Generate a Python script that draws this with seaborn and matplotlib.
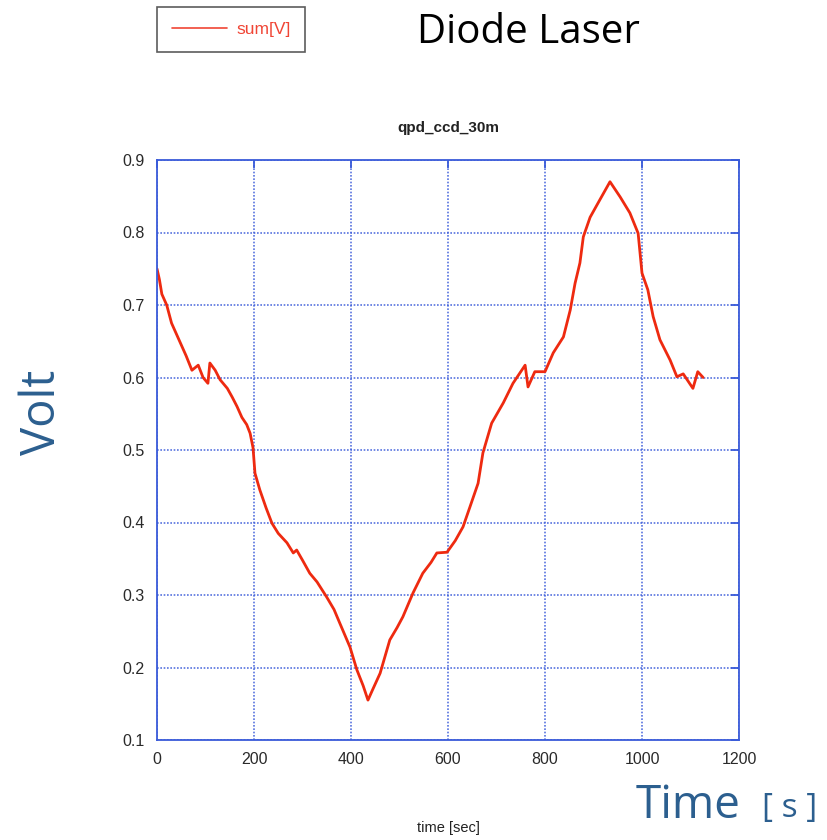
import matplotlib
matplotlib.use("Agg")
import matplotlib.pyplot as plt
import seaborn as sns
import pandas as pd

time_s = [0, 5, 10, 20, 30, 40, 50, 60, 72, 85, 95, 105, 109, 120, 130, 145, 155, 165, 175,
          185, 192, 198, 202, 212, 225, 237, 250, 268, 281, 288, 300, 315, 330, 350, 365, 377,
          398, 412, 425, 435, 445, 460, 480, 495, 507, 528, 548, 565, 577, 598, 615, 631, 645,
          662, 672, 690, 714, 734, 759, 765, 779, 800, 817, 838, 852, 862, 872, 879, 893, 913,
          934, 955, 975, 992, 1000, 1012, 1023, 1037, 1058, 1072, 1085, 1093, 1105, 1115, 1126]
volt = [0.750, 0.735, 0.715, 0.700, 0.675, 0.660, 0.645, 0.630, 0.610, 0.617, 0.600, 0.592, 0.620,
        0.610, 0.597, 0.585, 0.573, 0.560, 0.545, 0.535, 0.523, 0.503, 0.468, 0.445, 0.420, 0.399,
        0.385, 0.372, 0.358, 0.362, 0.348, 0.330, 0.318, 0.297, 0.280, 0.261, 0.228, 0.197, 0.175,
        0.155, 0.170, 0.192, 0.238, 0.255, 0.270, 0.303, 0.330, 0.345, 0.358, 0.359, 0.375, 0.394,
        0.421, 0.454, 0.496, 0.537, 0.565, 0.592, 0.617, 0.587, 0.608, 0.608, 0.634, 0.656, 0.693,
        0.730, 0.758, 0.794, 0.821, 0.845, 0.870, 0.849, 0.827, 0.799, 0.744, 0.721, 0.684, 0.652,
        0.624, 0.601, 0.605, 0.597, 0.585, 0.608, 0.600]

x_ticks = [0, 200, 400, 600, 800, 1000, 1200]
y_ticks = [0.1, 0.2, 0.3, 0.4, 0.5, 0.6, 0.7, 0.8, 0.9]

df = pd.DataFrame({"time": time_s, "sum[V]": volt})

sns.set_style("white")
plt.rcParams['font.family'] = ['Liberation Sans', 'DejaVu Sans']

blue = "#3A5BD9"
red = "#EE2A10"
slide_blue = "#2C5F8F"

fig = plt.figure(figsize=(8.28, 8.4), dpi=100)
ax = fig.add_axes([157/828, 1 - 740/840, (739 - 157)/828, (740 - 160)/840])

sns.lineplot(data=df, x="time", y="sum[V]", ax=ax, color=red, linewidth=2.0, legend=False)

ax.set_xlim(0, 1200)
ax.set_ylim(0.1, 0.9)
ax.set_xticks(x_ticks)
ax.set_yticks(y_ticks)
ax.set_xticklabels([str(v) for v in x_ticks])
ax.set_yticklabels([f"{v:.1f}" for v in y_ticks])
ax.grid(True, color=blue, linestyle=(0, (1, 1.0)), linewidth=1.2, alpha=0.85)
for s in ax.spines.values():
    s.set_color(blue)
    s.set_linewidth(1.3)
ax.tick_params(axis="both", direction="in", length=6, width=1.3, color=blue,
               labelsize=11.5, labelcolor="#2a2a2a", top=True, right=True, pad=9)
ax.set_xlabel("")
ax.set_ylabel("")

ax.set_title("qpd_ccd_30m", fontsize=11, fontweight="bold", pad=20, color="#222222")
fig.text(448/828, 1 - 828/840, "time [sec]", fontsize=10.5, ha="center", va="center", color="#222222")

# slide annotations
fig.text(528/828, 1 - 33/840, "Diode Laser", fontsize=29, ha="center", va="center",
         family=["Open Sans", "DejaVu Sans"], color="black")
fig.text(42/828, 1 - 412/840, "Volt", fontsize=34, ha="center", va="center", rotation=90,
         family=["Open Sans", "DejaVu Sans"], color=slide_blue)
fig.text(636/828, 1 - 806/840, "Time", fontsize=33, ha="left", va="center",
         family=["Open Sans", "DejaVu Sans"], color=slide_blue)
fig.text(762/828, 1 - 808/840, "[ s ]", fontsize=24, ha="left", va="center",
         family=["Open Sans", "DejaVu Sans"], color=slide_blue)

# legend box
leg = fig.legend(handles=[matplotlib.lines.Line2D([], [], color="#F04535", linewidth=1.2)],
                 labels=["sum[V]"], loc="upper left", bbox_to_anchor=(157/828, 1 - 7/840),
                 borderaxespad=0, frameon=True, fancybox=False, fontsize=12.5,
                 handlelength=3.2, handletextpad=0.5, borderpad=0.85, labelcolor="#F04535")
leg.get_frame().set_edgecolor("#333333")
leg.get_frame().set_linewidth(1.2)

fig.savefig("out.png", dpi=100, facecolor="white")
